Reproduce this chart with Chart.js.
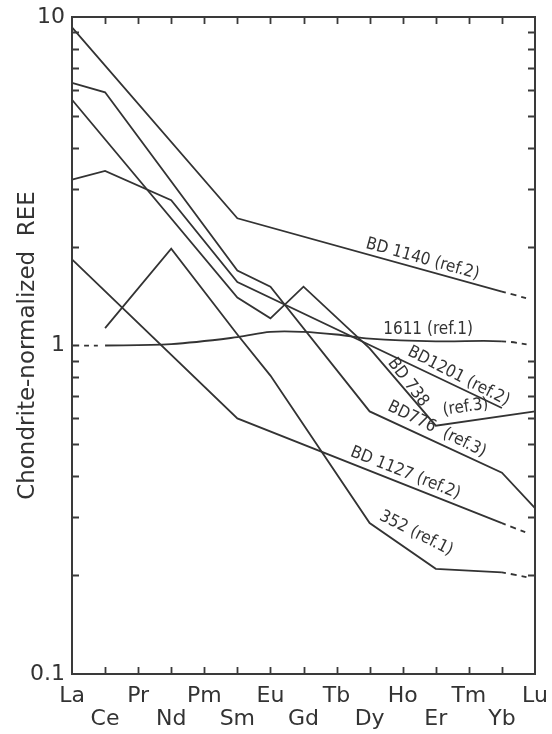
<!DOCTYPE html>
<html>
<head>
<meta charset="utf-8">
<script src="https://cdn.jsdelivr.net/npm/chart.js@4/dist/chart.umd.min.js"></script>
<style>
  html, body { margin: 0; padding: 0; background: #fff; }
  #wrap { width: 552px; height: 734px; }
</style>
</head>
<body>
<div id="wrap"><canvas id="c" width="552" height="734"></canvas></div>
<script>
// Rare earth elements along the x axis (chondrite-normalized pattern)
const elements = ['La','Ce','Pr','Nd','Pm','Sm','Eu','Gd','Tb','Dy','Ho','Er','Tm','Yb','Lu'];

// Y axis labelled decades
const yTickValues = [0.1, 1, 10];
const yTickLabels = ['0.1', '1', '10'];

// Sample patterns (null = element not measured; the line spans the gap)
const bd1140 = [9.3, null, null, null, null, 2.44, null, null, null, null, null, null, null, 1.46, 1.37];
const bd776  = [6.3, 5.9, null, null, null, 1.69, 1.51, null, null, 0.63, null, null, null, 0.41, 0.32];
const bd738  = [5.6, null, null, null, null, 1.40, 1.21, 1.51, null, 0.98, null, 0.57, null, null, 0.63];
const bd1201 = [3.2, 3.4, null, 2.77, null, 1.56, null, null, null, null, null, null, null, 0.645, null];
const bd1127 = [1.83, null, null, null, null, 0.60, null, null, null, null, null, null, null, 0.288, 0.263];
const s352   = [null, 1.13, null, 1.97, null, 1.08, 0.81, null, null, 0.288, null, 0.209, null, 0.204, 0.195];
const s1611  = [1.0, 1.0, null, 1.01, null, 1.06, 1.10, 1.10, 1.08, 1.05, null, 1.03, null, 1.03, 1.0];

const INK = '#333';
const TAIL_DASH = [4, 5, 6, 5, 5, 30];
const HEAD_DASH = [7, 5, 5, 5, 4, 8];

function series(data, opts = {}) {
  return Object.assign({
    data,
    borderColor: INK,
    borderWidth: 1.8,
    pointRadius: 0,
    pointHoverRadius: 0,
    fill: false,
    tension: 0,
    spanGaps: true,
    segment: {
      borderDash: ctx => {
        const ds = ctx.chart.data.datasets[ctx.datasetIndex];
        if (ds.dashTail && ctx.p1DataIndex === elements.length - 1) return TAIL_DASH;
        if (ds.dashHead && ctx.p0DataIndex === 0) return HEAD_DASH;
        return undefined;
      }
    }
  }, opts);
}

// Labels written along the curves: segment (i0 -> i1), position t along it,
// offset d above it, optional fixed text angle in degrees
const curveLabels = [
  { text: 'BD 1140 (ref.2)', ds: 0, i0: 5, i1: 13, t: 0.69, d: 10 },
  { text: '1611 (ref.1)',    ds: 6, i0: 9, i1: 13, t: 0.44, d: 10, angle: 0 },
  { text: 'BD1201 (ref.2)',  ds: 3, i0: 5, i1: 13, t: 0.82, d: 10, angle: 27 },
  { text: 'BD 738',          ds: 2, i0: 9, i1: 11, t: 0.5,  d: 7,  angle: 53 },
  { text: '(ref.3)',         ds: 2, i0: 11, i1: 14, t: 0.32, d: 14 },
  { text: 'BD776  (ref.3)',  ds: 1, i0: 9, i1: 13, t: 0.47, d: 12, angle: 26 },
  { text: 'BD 1127 (ref.2)', ds: 4, i0: 5, i1: 13, t: 0.62, d: 11 },
  { text: '352 (ref.1)',     ds: 5, i0: 9, i1: 11, t: 0.55, d: 18, angle: 27 }
];

// Minor log ticks 2..9 in each decade
const minorTicks = [];
[0.1, 1].forEach(dec => { for (let k = 2; k <= 9; k++) minorTicks.push(+(k * dec).toFixed(3)); });

const framePlugin = {
  id: 'frame',
  afterDatasetsDraw(chart) {
    const { ctx, chartArea: { left, right, top, bottom }, scales: { x, y } } = chart;
    ctx.save();
    ctx.strokeStyle = '#3a3a3a';
    ctx.lineWidth = 2;
    ctx.strokeRect(left, top, right - left, bottom - top);
    ctx.lineWidth = 1.8;
    ctx.beginPath();
    for (let i = 1; i < elements.length - 1; i++) {
      const px = Math.round(x.getPixelForValue(i)) + 0.5;
      ctx.moveTo(px, bottom); ctx.lineTo(px, bottom - 7);
      ctx.moveTo(px, top); ctx.lineTo(px, top + 7);
    }
    minorTicks.forEach(v => {
      const py = Math.round(y.getPixelForValue(v)) + 0.5;
      ctx.moveTo(left, py); ctx.lineTo(left + 7, py);
      ctx.moveTo(right, py); ctx.lineTo(right - 7, py);
    });
    ctx.stroke();
    ctx.restore();
  }
};

const labelPlugin = {
  id: 'curveLabels',
  afterDatasetsDraw(chart) {
    const { ctx, scales: { x, y } } = chart;
    ctx.save();
    ctx.fillStyle = INK;
    ctx.font = '17px "DejaVu Sans Condensed", "DejaVu Sans", sans-serif';
    ctx.textAlign = 'center';
    ctx.textBaseline = 'middle';
    curveLabels.forEach(L => {
      const data = chart.data.datasets[L.ds].data;
      const x0 = x.getPixelForValue(L.i0), y0 = y.getPixelForValue(data[L.i0]);
      const x1 = x.getPixelForValue(L.i1), y1 = y.getPixelForValue(data[L.i1]);
      const a = Math.atan2(y1 - y0, x1 - x0);
      const px = x0 + (x1 - x0) * L.t + L.d * Math.sin(a);
      const py = y0 + (y1 - y0) * L.t - L.d * Math.cos(a);
      const rot = L.angle !== undefined ? L.angle * Math.PI / 180 : a;
      ctx.save();
      ctx.translate(px, py);
      ctx.rotate(rot);
      ctx.fillText(L.text, 0, 0);
      ctx.restore();
    });
    ctx.restore();
  }
};

new Chart(document.getElementById('c'), {
  type: 'line',
  data: {
    labels: elements,
    datasets: [
      series(bd1140, { label: 'BD 1140', dashTail: true }),
      series(bd776,  { label: 'BD776' }),
      series(bd738,  { label: 'BD 738' }),
      series(bd1201, { label: 'BD1201' }),
      series(bd1127, { label: 'BD 1127', dashTail: true }),
      series(s352,   { label: '352', dashTail: true }),
      series(s1611,  { label: '1611', dashTail: true, dashHead: true, tension: 0.35 })
    ]
  },
  options: {
    responsive: false,
    devicePixelRatio: 1,
    animation: false,
    layout: { padding: { top: 17, right: 17, left: 0, bottom: 0 } },
    plugins: { legend: { display: false }, tooltip: { enabled: false } },
    scales: {
      x: {
        type: 'category',
        offset: false,
        grid: { display: false, drawTicks: false },
        border: { display: false },
        ticks: {
          autoSkip: false,
          maxRotation: 0,
          minRotation: 0,
          padding: 11,
          color: INK,
          font: { family: '"DejaVu Sans", sans-serif', size: 22, lineHeight: 1.05 },
          callback: (v, i) => (i % 2 === 0 ? [elements[i]] : ['', elements[i]])
        },
        afterFit: s => { s.height = 60; s.paddingLeft = 0; s.paddingRight = 0; }
      },
      y: {
        type: 'logarithmic',
        min: 0.1,
        max: 10,
        grid: { display: false, drawTicks: false },
        border: { display: false },
        afterBuildTicks: s => { s.ticks = yTickValues.map(v => ({ value: v })); },
        ticks: {
          padding: 7,
          color: INK,
          font: { family: '"DejaVu Sans", sans-serif', size: 22 },
          callback: v => {
            const k = yTickValues.findIndex(t => Math.abs(t - v) < 1e-9);
            return k >= 0 ? yTickLabels[k] : '';
          }
        },
        title: {
          display: true,
          text: 'Chondrite-normalized  REE',
          color: INK,
          font: { family: '"DejaVu Sans", sans-serif', size: 23 },
          padding: { top: 14, bottom: 0 }
        },
        afterFit: s => { s.width = 72; s.paddingTop = 0; s.paddingBottom = 0; }
      }
    }
  },
  plugins: [framePlugin, labelPlugin]
});
</script>
</body>
</html>
